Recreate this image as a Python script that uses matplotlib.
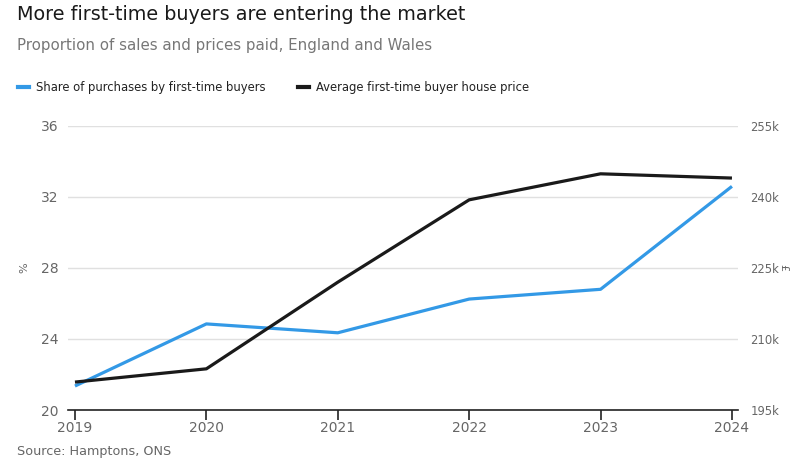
import matplotlib.pyplot as plt
from matplotlib.lines import Line2D
from matplotlib import font_manager

years = [2019, 2020, 2021, 2022, 2023, 2024]
# share of purchases by first-time buyers, %
share = [21.35, 24.85, 24.35, 26.25, 26.8, 32.6]
# average first-time buyer house price, £k
price = [200.9, 203.7, 222.0, 239.4, 244.9, 244.0]

blue = '#3399e6'
black = '#1a1a1a'
grey = '#666666'

# DejaVu condensed face for legend and right axis
narrow = font_manager.FontProperties(family='DejaVu Sans', stretch='condensed', size=9.3)

fig = plt.figure(figsize=(8, 4.67), dpi=100)
ax = fig.add_axes([68/800, 1-410/467, 670/800, 284/467])
ax2 = ax.twinx()

ax.plot(years, share, color=blue, lw=2.3, zorder=3, solid_capstyle='butt')
ax2.plot(years, price, color=black, lw=2.3, zorder=3, solid_capstyle='butt')

ax.set_xlim(2018.947, 2024.046)
ax.set_ylim(20, 36)
ax2.set_ylim(195, 255)
ax.set_yticks([20, 24, 28, 32, 36])
ax2.set_yticks([195, 210, 225, 240, 255])
ax2.set_yticklabels([f'{v}k' for v in [195, 210, 225, 240, 255]], fontproperties=narrow)
ax.set_xticks(years)

ax.grid(axis='y', color='#e0e0e0', lw=1)
ax.set_axisbelow(True)
for a in (ax, ax2):
    for s in ['top', 'right', 'left']:
        a.spines[s].set_visible(False)
ax2.spines['bottom'].set_visible(False)
ax.spines['bottom'].set_color('#222222')
ax.spines['bottom'].set_linewidth(1.2)
ax.tick_params(axis='x', length=7, width=1.2, color='#222222', labelcolor=grey, labelsize=10, pad=1)
ax.tick_params(axis='y', length=0, labelcolor=grey, labelsize=10, pad=7)
ax2.tick_params(axis='y', length=0, labelcolor=grey, pad=9)
ax.set_ylabel('%', color=grey, fontsize=8)
ax2.set_ylabel('£', color=grey, fontsize=8, rotation=270, va='center')
ax.yaxis.set_label_coords(-0.057, 0.5)
ax2.yaxis.set_label_coords(1.068, 0.5)

fig.text(17/800, 1-15/467, 'More first-time buyers are entering the market', fontsize=13.8,
         color='#1a1a1a', va='center', ha='left')
fig.text(17/800, 1-45/467, 'Proportion of sales and prices paid, England and Wales', fontsize=10.8,
         color='#777777', va='center', ha='left')

handles = [Line2D([], [], color=blue, lw=3), Line2D([], [], color=black, lw=3)]
leg = fig.legend(handles, ['Share of purchases by first-time buyers', 'Average first-time buyer house price'],
                 loc='center left', bbox_to_anchor=(6/800, 1-88/467), ncol=2, frameon=False,
                 handlelength=0.9, handletextpad=0.5, columnspacing=2.5,
                 prop=font_manager.FontProperties(family='DejaVu Sans', stretch='condensed', size=9.3))
for t in leg.get_texts():
    t.set_color('#222222')

fig.text(17/800, 1-452/467, 'Source: Hamptons, ONS', fontsize=9.2, color=grey, va='center', ha='left')

fig.savefig('out.png', dpi=100)
